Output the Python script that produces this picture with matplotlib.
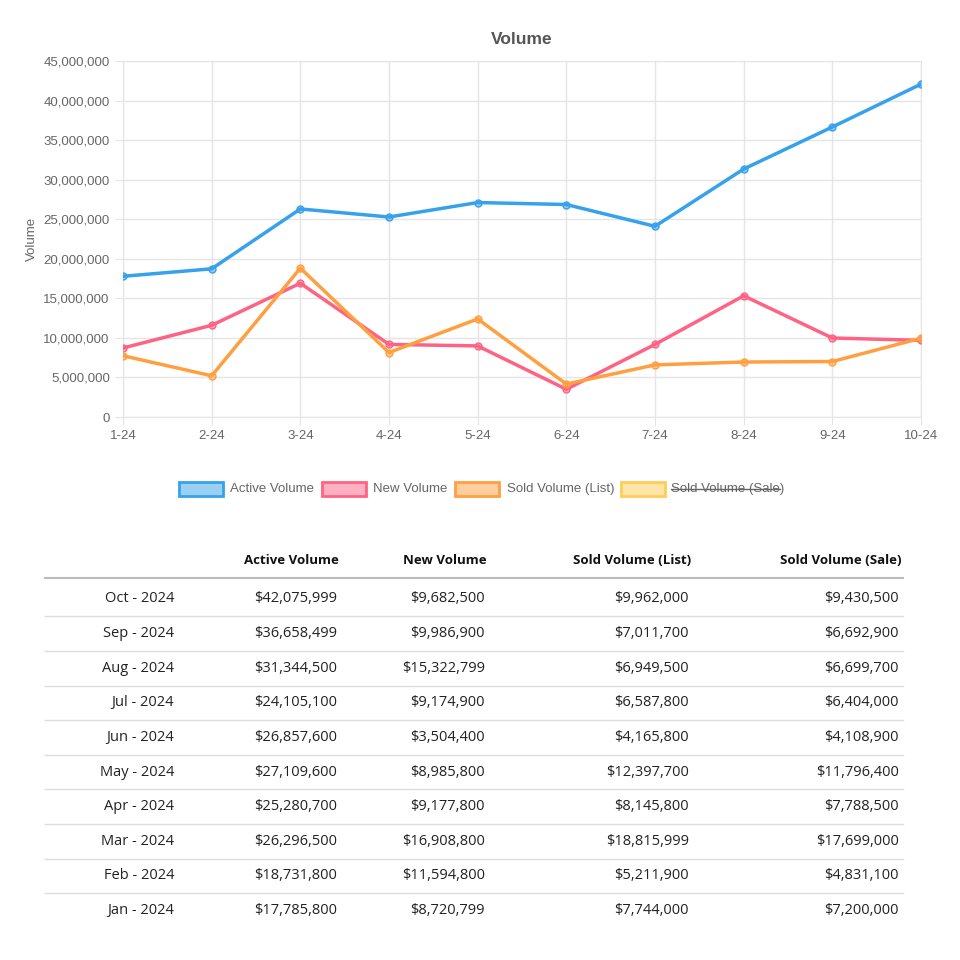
import matplotlib
matplotlib.use("Agg")
import matplotlib.pyplot as plt
from matplotlib.patches import Rectangle
from matplotlib.lines import Line2D

months = ["1-24", "2-24", "3-24", "4-24", "5-24", "6-24", "7-24", "8-24", "9-24", "10-24"]
active = [17785800, 18731800, 26296500, 25280700, 27109600, 26857600, 24105100, 31344500, 36658499, 42075999]
new = [8720799, 11594800, 16908800, 9177800, 8985800, 3504400, 9174900, 15322799, 9986900, 9682500]
sold_list = [7744000, 5211900, 18815999, 8145800, 12397700, 4165800, 6587800, 6949500, 7011700, 9962000]
sold_sale = [7200000, 4831100, 17699000, 7788500, 11796400, 4108900, 6404000, 6699700, 6692900, 9430500]
row_labels = ["Jan - 2024", "Feb - 2024", "Mar - 2024", "Apr - 2024", "May - 2024",
              "Jun - 2024", "Jul - 2024", "Aug - 2024", "Sep - 2024", "Oct - 2024"]
headers = ["Active Volume", "New Volume", "Sold Volume (List)", "Sold Volume (Sale)"]
colors = ["#36A2EB", "#FF6384", "#FF9F40", "#FFCD56"]

W = H = 960
fig = plt.figure(figsize=(9.6, 9.6), dpi=100)
plt.rcParams['font.family'] = ['Liberation Sans', 'DejaVu Sans']

def fx(px): return px / W
def fy(py): return 1 - py / H

ax = fig.add_axes([fx(123), fy(417), fx(921) - fx(123), fy(61) - fy(417)])
x = range(len(months))
for vals, c in zip([active, new, sold_list], colors[:3]):
    ax.plot(x, vals, color=c, lw=2.5, marker='o', ms=5, mfc=c + "80", mec=c, zorder=3)
ax.set_xlim(0, len(months) - 1)
ax.set_ylim(0, 45000000)
ax.set_yticks(range(0, 45000001, 5000000))
ax.set_yticklabels([f"{v:,}" for v in range(0, 45000001, 5000000)])
ax.set_xticks(list(x))
ax.set_xticklabels(months)
ax.grid(True, color="#e5e5e5", lw=1)
ax.set_axisbelow(True)
for s in ax.spines.values():
    s.set_color("#e5e5e5")
ax.tick_params(colors="#666666", labelsize=9.5, length=6, color="#e5e5e5")
ax.set_ylabel("Volume", color="#666666", fontsize=9.5)
ax.set_title("Volume", color="#555555", fontsize=12.5, fontweight='bold', pad=12)

# legend drawn by hand (last series hidden, struck through)
legend_items = [(179, 230, headers[0]), (322, 373, headers[1]), (455, 507, headers[2]), (621, 671, headers[3])]
for i, (bx, tx, label) in enumerate(legend_items):
    c = colors[i]
    fig.patches.append(Rectangle((fx(bx), fy(496)), fx(44), fx(14), transform=fig.transFigure,
                                 facecolor=c + "80", edgecolor=c, lw=2))
    t = fig.text(fx(tx), fy(489), label, fontsize=9.5, color="#666666", va='center')
    if i == 3:
        fig.lines.append(Line2D([fx(671), fx(780)], [fy(489), fy(489)], transform=fig.transFigure,
                                color="#666666", lw=1))

# table
tf = ['Open Sans', 'DejaVu Sans']
col_right = [339, 487, 691, 901]
for h, cx in zip(headers, col_right):
    fig.text(fx(cx), fy(561), h, ha='right', va='center', fontsize=9.5, fontweight='bold', family=tf, color="#111111")
fig.lines.append(Line2D([fx(45), fx(903)], [fy(578), fy(578)], transform=fig.transFigure, color="#bbbbbb", lw=1.5))
step = 34.6
for r in range(10):
    i = 9 - r
    yc = 599 + r * step
    cells = [active[i], new[i], sold_list[i], sold_sale[i]]
    fig.text(fx(174), fy(yc), row_labels[i], ha='right', va='center', fontsize=10.5, family=tf, color="#222222")
    for v, cx in zip(cells, col_right):
        fig.text(fx(cx - 2), fy(yc), f"${v:,}", ha='right', va='center', fontsize=10.5, family=tf, color="#222222")
    if r < 9:
        yl = yc + step / 2
        fig.lines.append(Line2D([fx(45), fx(903)], [fy(yl), fy(yl)], transform=fig.transFigure, color="#dddddd", lw=1))

fig.savefig("out.png", dpi=100, facecolor="white")
